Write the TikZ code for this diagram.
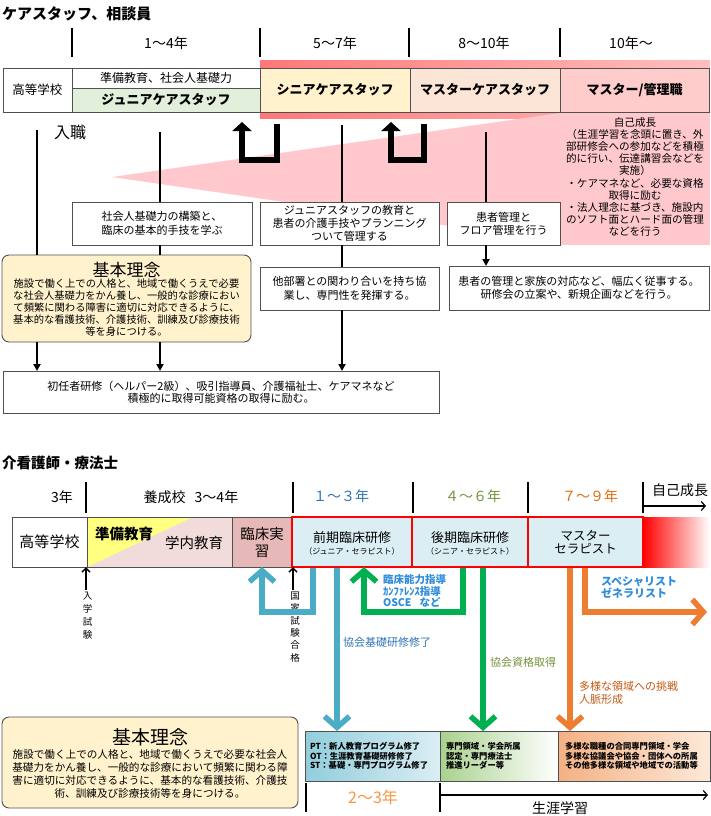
\documentclass[tikz,border=0pt]{standalone}
\usepackage{fontspec}
\setmainfont{Noto Sans CJK JP}
\usetikzlibrary{arrows.meta}
\newcommand\myfs[2]{\fontsize{#1}{#2}\selectfont}
\definecolor{boxgray}{RGB}{80,80,80}
\definecolor{jgreen}{RGB}{226,239,218}
\definecolor{syellow}{RGB}{255,242,204}
\definecolor{mpeach}{RGB}{251,229,214}
\definecolor{mpink}{RGB}{255,204,204}
\definecolor{wedgepink}{RGB}{255,200,205}
\definecolor{bandL}{RGB}{255,120,120}
\definecolor{bandR}{RGB}{255,190,190}
\definecolor{philo}{RGB}{255,242,204}
\definecolor{lblue}{RGB}{218,238,243}
\definecolor{rinpink}{RGB}{230,185,184}
\definecolor{edupink}{RGB}{242,220,219}
\definecolor{eduyel}{RGB}{255,255,128}
\definecolor{arrB}{RGB}{75,172,198}
\definecolor{arrG}{RGB}{0,176,80}
\definecolor{arrO}{RGB}{237,125,49}
\definecolor{txB}{RGB}{46,117,182}
\definecolor{txB2}{RGB}{46,140,220}
\definecolor{txOl}{RGB}{118,146,60}
\definecolor{txO}{RGB}{197,90,17}
\definecolor{txO2}{RGB}{247,150,70}
\definecolor{txO3}{RGB}{228,108,10}
\definecolor{bb1L}{RGB}{146,205,220}
\definecolor{bb2L}{RGB}{169,209,142}
\definecolor{bb3L}{RGB}{244,177,131}
\definecolor{bb3R}{RGB}{253,233,217}
\begin{document}
\begin{tikzpicture}[x=1pt,y=-1pt,
  box/.style={draw=boxgray, line width=0.9pt, inner sep=0pt, outer sep=0pt, align=center},
  rbox/.style={draw=red, line width=2.5pt, inner sep=0pt, outer sep=0pt, align=center, fill=lblue},
  txt/.style={inner sep=0pt, outer sep=0pt, align=center},
  ln/.style={line width=2pt},
  conn/.style={line width=2pt, -{Triangle[length=7pt,width=7pt]}},
  tickmark/.style={line width=2.2pt},
  bigu/.style={line width=6pt, line join=miter, -{Triangle[length=9pt,width=19pt]}},
  fat/.style={line width=5.5pt, line join=miter, -{Straight Barb[length=11pt,width=25pt]}},
  thinarr/.style={line width=1.5pt, -{Straight Barb[length=4pt,width=8pt]}}
]
\useasboundingbox (0,0) rectangle (710,816);
\fill[white] (0,0) rectangle (710,816);

% ================= TOP SECTION =================
\node[txt, anchor=west, font={\myfs{15}{18}\bfseries}] (t1) at (2,14) {ケアスタッフ、相談員};

\foreach \x in {72,260,409,560} \draw[tickmark] (\x,28) -- (\x,57);
\node[txt, font=\myfs{14}{16}] (y1) at (166,43) {1〜4年};
\node[txt, font=\myfs{14}{16}] (y2) at (335,43) {5〜7年};
\node[txt, font=\myfs{14}{16}] (y3) at (484,43) {8〜10年};
\node[txt, font=\myfs{14}{16}] (y4) at (631,43) {10年〜};

% pink band and wedge
\fill[left color=bandL, right color=bandR] (260,61) rectangle (710,118);
\fill[wedgepink] (112,177) -- (560,113) -- (560,242) -- cycle;
\fill[wedgepink] (560,112) rectangle (710,245);

% row boxes
\node[box, minimum width=69pt, minimum height=44pt, fill=white, font=\myfs{12.5}{14}] (hs1) at (37.5,90) {高等学校};
\node[box, minimum width=188pt, minimum height=20pt, fill=white, font=\myfs{12}{14}] (prep1) at (166,78) {準備教育、社会人基礎力};
\node[box, minimum width=188pt, minimum height=24pt, fill=jgreen, font={\myfs{13}{15}\bfseries}] (jun) at (166,100) {ジュニアケアスタッフ};
\node[box, minimum width=150pt, minimum height=44pt, fill=syellow, font={\myfs{13}{15}\bfseries}] (sen) at (335,90) {シニアケアスタッフ};
\node[box, minimum width=150pt, minimum height=44pt, fill=mpeach, font={\myfs{13}{15}\bfseries}] (mas) at (485,90) {マスターケアスタッフ};
\node[box, minimum width=149pt, minimum height=44pt, fill=mpink, font={\myfs{13}{15}\bfseries}] (mgr) at (634.5,90) {マスター/管理職};

\node[txt, font=\myfs{16}{18}] (nyu) at (70,132) {入職};

% U-turn arrows
\draw[bigu] (277,124) -- (277,160) -- (242,160) -- (242,122);
\draw[bigu] (424,124) -- (424,160) -- (391,160) -- (391,122);

% self growth text
\node[txt, font=\myfs{10.6}{12.2}] (self1) at (635,177) {自己成長\\（生涯学習を念頭に置き、外\\部研修会への参加などを積極\\的に行い、伝達講習会などを\\実施）\\・ケアマネなど、必要な資格\\取得に励む\\・法人理念に基づき、施設内\\のソフト面とハード面の管理\\などを行う};

% text boxes
\node[box, minimum width=180pt, minimum height=43pt, fill=white, font=\myfs{11}{13.5}] (b1) at (162,223.5) {社会人基礎力の構築と、\\臨床の基本的手技を学ぶ};
\node[box, minimum width=179pt, minimum height=43pt, fill=white, font=\myfs{11}{13}] (b2) at (349.5,223.5) {ジュニアスタッフの教育と\\患者の介護手技やプランニング\\ついて管理する};
\node[box, minimum width=179pt, minimum height=43pt, fill=white, font=\myfs{11}{13.5}] (b3) at (349.5,288.5) {他部署との関わり合いを持ち協\\業し、専門性を発揮する。};
\node[box, minimum width=113pt, minimum height=43pt, fill=white, font=\myfs{11}{13}] (b4) at (503.5,223.5) {患者管理と\\フロア管理を行う};
\node[box, minimum width=260pt, minimum height=44pt, fill=white, font=\myfs{11}{13.5}] (b5) at (579,288) {患者の管理と家族の対応など、幅広く従事する。\\研修会の立案や、新規企画などを行う。};
\node[box, minimum width=436pt, minimum height=42pt, fill=white, font=\myfs{11}{12}] (b6) at (221,392) {初任者研修（ヘルパー2級）、吸引指導員、介護福祉士、ケアマネなど\\積極的に取得可能資格の取得に励む。};

% basic philosophy (top)
\node[box, rounded corners=7pt, minimum width=249pt, minimum height=87pt, fill=philo] (ph1) at (126.5,298.5) {};
\node[txt, font=\myfs{17}{19}] (ph1t) at (126.5,270) {基本理念};
\node[txt, font=\myfs{10.3}{12}] (ph1b) at (126.5,308) {施設で働く上での人格と、地域で働くうえで必要\\な社会人基礎力をかん養し、一般的な診療におい\\て頻繁に関わる障害に適切に対応できるように、\\基本的な看護技術、介護技術、訓練及び診療技術\\等を身につける。};

% connectors top
\coordinate (p1) at (37,130);
\coordinate (p2) at (160,132);
\coordinate (p3) at (342,125);
\coordinate (p4) at (486,132);
\draw[ln] (p1) -- (p1 |- ph1.north);
\draw[conn] (p1 |- ph1.south) -- (p1 |- b6.north);
\draw[ln] (p2) -- (p2 |- b1.north);
\draw[ln] (p2 |- b1.south) -- (p2 |- ph1.north);
\draw[conn] (p2 |- ph1.south) -- (p2 |- b6.north);
\draw[ln] (p3) -- (p3 |- b2.north);
\draw[ln] (p3 |- b2.south) -- (p3 |- b3.north);
\draw[conn] (p3 |- b3.south) -- (p3 |- b6.north);
\draw[ln] (p4) -- (p4 |- b4.north);
\draw[conn] (p4 |- b4.south) -- (p4 |- b5.north);

% ================= BOTTOM SECTION =================
\node[txt, anchor=west, font={\myfs{14.5}{17}\bfseries}] (t2) at (2,463) {介看護師・療法士};

\foreach \x in {86,293,413,528,643} \draw[tickmark] (\x,482) -- (\x,513);
\node[txt, font=\myfs{14}{16}] (z1) at (62,497) {3年};
\node[txt, font=\myfs{14}{16}] (z2) at (191,497) {養成校\hspace{9pt}3〜4年};
\node[txt, font=\myfs{14}{16}, text=txB] (z3) at (341,496) {１〜３年};
\node[txt, font=\myfs{14}{16}, text=txOl] (z4) at (473,496) {４〜６年};
\node[txt, font=\myfs{14}{16}, text=txO3] (z5) at (590,496) {７〜９年};
\node[txt, font=\myfs{14}{16}] (z6) at (680,490) {自己成長};
\coordinate (sg) at (643,506);
\coordinate (sge) at (706,506);
\draw[line width=1.2pt, -{Straight Barb[length=4pt,width=9pt]}] (sg) -- (sge);

% row
\node[box, minimum width=75pt, minimum height=50pt, fill=white, font=\myfs{15}{17}] (hs2) at (49.5,542) {高等学校};
\node[box, minimum width=145pt, minimum height=50pt, fill=edupink] (edu) at (159.5,542) {};
\fill[eduyel] (87,517) -- (193,517) -- (87,567) -- cycle;
\draw[boxgray, line width=0.9pt] (87,517) rectangle (232,567);
\node[txt, font={\myfs{14.5}{16}\bfseries}] (edu1) at (124,534) {準備教育};
\node[txt, font=\myfs{14.5}{16}] (edu2) at (194,543) {学内教育};
\node[box, minimum width=60pt, minimum height=50pt, fill=rinpink, font=\myfs{14.5}{17}] (rin) at (262,542) {臨床実\\習};
\fill[left color=red, right color=white] (643,517) rectangle (710,567);
\node[rbox, minimum width=120pt, minimum height=50pt] (zen) at (352,542) {};
\node[rbox, minimum width=116pt, minimum height=50pt] (kou) at (470,542) {};
\node[rbox, minimum width=115pt, minimum height=50pt, font=\myfs{12.5}{13}] (mst) at (585.5,542) {マスター\\セラピスト};
\node[txt, font=\myfs{13}{15}] (zen1) at (352,538) {前期臨床研修};
\node[txt, font=\myfs{8}{10}] (zen2) at (352,551) {（ジュニア・セラピスト）};
\node[txt, font=\myfs{13}{15}] (kou1) at (470,538) {後期臨床研修};
\node[txt, font=\myfs{8}{10}] (kou2) at (470,551) {（シニア・セラピスト）};

% exam arrows
\coordinate (q1) at (86,590);
\coordinate (q2) at (293,590);
\draw[thinarr] (q1) -- (q1 |- hs2.south);
\draw[thinarr] (q2) -- (q2 |- rin.south);
\node[txt, font=\myfs{9.5}{13}] (ex1) at (87.5,615.5) {入\\学\\試\\験};
\node[txt, font=\myfs{9.5}{12.4}] (ex2) at (295,627) {国\\家\\試\\験\\合\\格};

% bottom boxes
\node[box, minimum width=135pt, minimum height=50pt, left color=bb1L, right color=lblue] (bb1) at (372.5,756) {};
\node[box, minimum width=118pt, minimum height=50pt, left color=bb2L, right color=white] (bb2) at (499,756) {};
\node[box, minimum width=152pt, minimum height=50pt, left color=bb3L, right color=bb3R] (bb3) at (634,756) {};
\node[txt, anchor=west, align=left, font={\myfs{8.3}{9.3}\bfseries}] (bb1t) at (310,756) {PT：新人教育プログラム修了\\OT：生涯教育基礎研修修了\\ST：基礎・専門プログラム修了};
\node[txt, anchor=west, align=left, font={\myfs{8.3}{9.3}\bfseries}] (bb2t) at (446,756) {専門領域・学会所属\\認定・専門療法士\\推進リーダー等};
\node[txt, anchor=west, align=left, font={\myfs{8.3}{9.3}\bfseries}] (bb3t) at (565,756) {多様な職種の合同専門領域・学会\\多様な協議会や協会・団体への所属\\その他多様な領域や地域での活動等};

% colored arrows
\coordinate (bu) at (313,612);
\draw[fat, draw=arrB, shorten <=1pt] (bu |- zen.south) -- (bu) -- (bu -| rin.south) -- (rin.south);
\coordinate (bl) at (337,700);
\draw[fat, draw=arrB, shorten <=1pt] (bl |- zen.south) -- (bl |- bb1.north);
\coordinate (gu) at (463,612);
\coordinate (gt) at (364,612);
\draw[fat, draw=arrG, shorten <=1pt] (gu |- kou.south) -- (gu) -- (gt) -- (gt |- zen.south);
\coordinate (gl) at (483,700);
\draw[fat, draw=arrG, shorten <=1pt] (gl |- kou.south) -- (gl |- bb2.north);
\coordinate (ol) at (570,700);
\draw[fat, draw=arrO, shorten <=1pt] (ol |- mst.south) -- (ol |- bb3.north);
\coordinate (oc) at (585,612);
\coordinate (oe) at (707,612);
\draw[fat, draw=arrO, shorten <=1pt] (oc |- mst.south) -- (oc) -- (oe);

% labels
\node[txt, anchor=west, align=left, text=txB2, font={\myfs{10.5}{11.5}\bfseries}] (l1) at (383,591) {臨床能力指導\\ｶﾝﾌｧﾚﾝｽ指導\\OSCE\hspace{8pt}など};
\node[txt, anchor=west, text=txB, font=\myfs{11}{13}] (l2) at (343,642) {協会基礎研修修了};
\node[txt, anchor=west, text=txOl, font=\myfs{11}{13}] (l3) at (490,662) {協会資格取得};
\node[txt, anchor=west, align=left, text=txO, font=\myfs{11}{13}] (l4) at (579,693) {多様な領域への挑戦\\人脈形成};
\node[txt, anchor=west, align=left, text=txB2, font={\myfs{11}{12}\bfseries}] (l5) at (601,587) {スペシャリスト\\ゼネラリスト};

% basic philosophy (bottom)
\node[box, rounded corners=7pt, minimum width=296pt, minimum height=91pt, fill=philo] (ph2) at (150,762.5) {};
\node[txt, font=\myfs{19}{21}] (ph2t) at (150,737) {基本理念};
\node[txt, font=\myfs{10.6}{13}] (ph2b) at (150,774) {施設で働く上での人格と、地域で働くうえで必要な社会人\\基礎力をかん養し、一般的な診療において頻繁に関わる障\\害に適切に対応できるように、基本的な看護技術、介護技\\術、訓練及び診療技術等を身につける。};

% bottom timeline
\coordinate (k1) at (306,783);
\coordinate (k2) at (440,783);
\draw[line width=1.5pt] (k1) -- ++(0,29);
\draw[line width=1.5pt] (k2) -- ++(0,29);
\node[txt, text=txO2, font=\myfs{16}{18}] (k3) at (373,797) {2〜3年};
\coordinate (k4) at (440,795);
\coordinate (k5) at (708,795);
\draw[line width=1.2pt, -{Straight Barb[length=4pt,width=9pt]}] (k4) -- (k5);
\node[txt, font=\myfs{14}{16}] (k6) at (560,808) {生涯学習};
\end{tikzpicture}
\end{document}
